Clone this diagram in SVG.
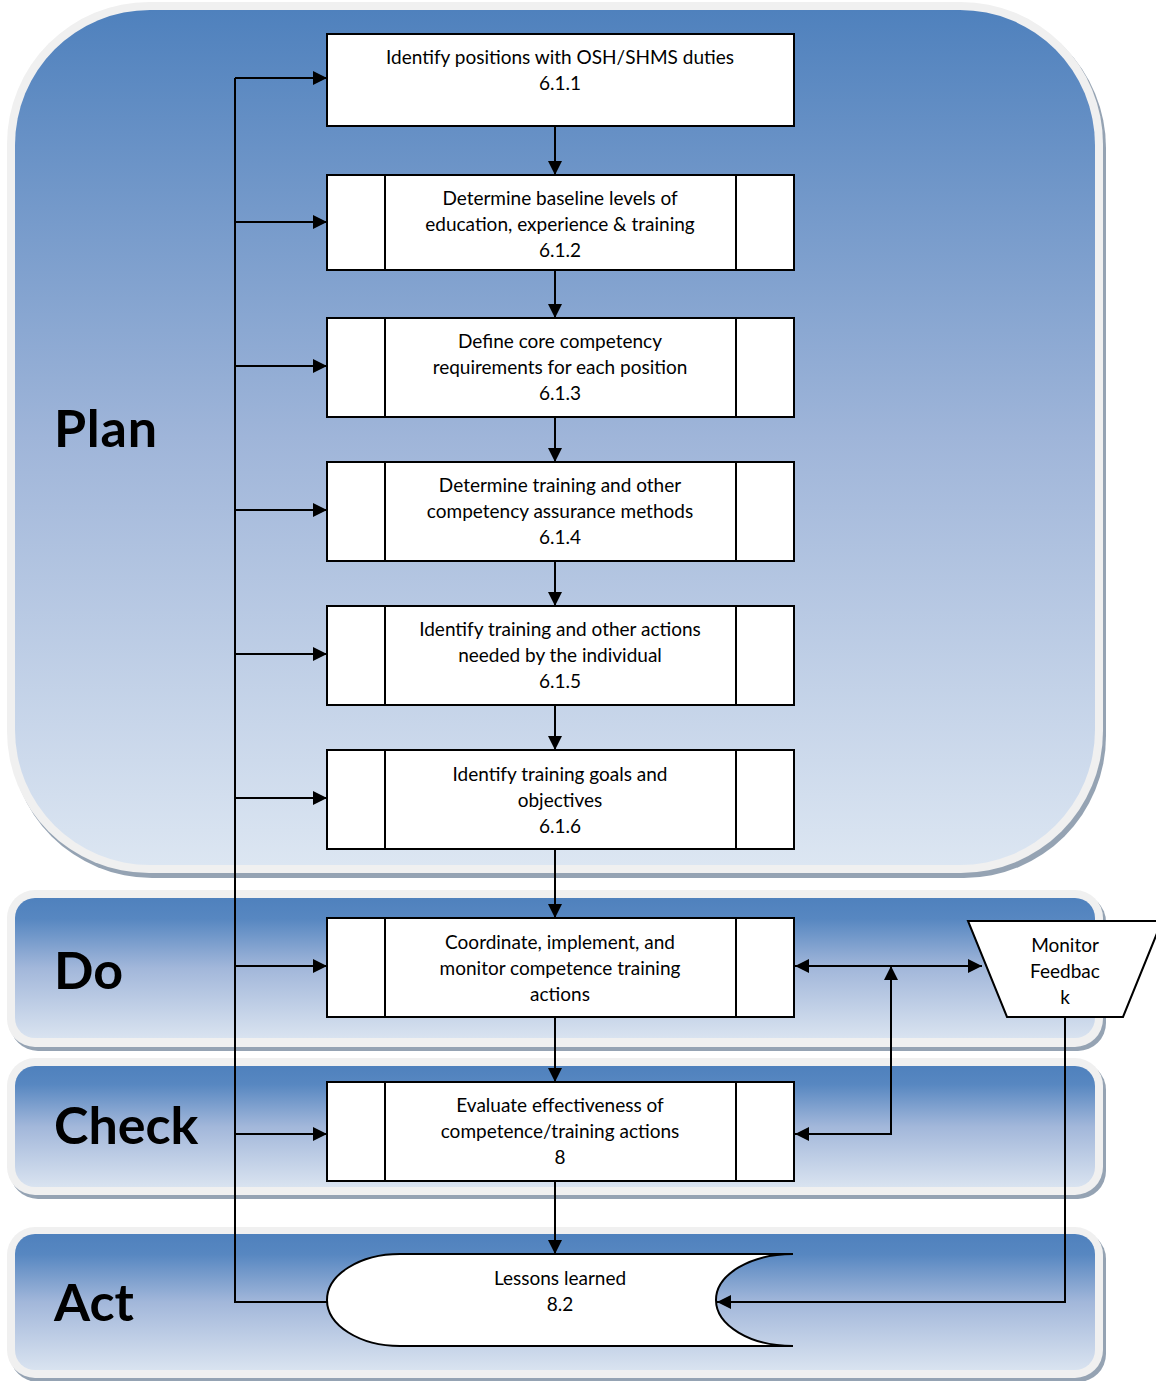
<svg xmlns="http://www.w3.org/2000/svg" width="1156" height="1381" viewBox="0 0 1156 1381">
<defs>
<linearGradient id="gPlan" x1="0" y1="0" x2="0" y2="1">
<stop offset="0" stop-color="#4f81bd"/>
<stop offset="0.5" stop-color="#9fb5d9"/>
<stop offset="1" stop-color="#dce6f2"/>
</linearGradient>
<linearGradient id="gBand" x1="0" y1="0" x2="0" y2="1">
<stop offset="0" stop-color="#4f81bd"/>
<stop offset="0.15" stop-color="#5787c1"/>
<stop offset="0.5" stop-color="#a2b7da"/>
<stop offset="1" stop-color="#d9e3f0"/>
</linearGradient>
<marker id="ah" viewBox="0 0 12 12" refX="12" refY="6" markerWidth="14" markerHeight="14" markerUnits="userSpaceOnUse" orient="auto-start-reverse">
<path d="M0,0 L12,6 L0,12 Z" fill="#000"/>
</marker>
</defs>
<style>
.sh{fill:#95a3b3}
.bd{fill:#f0f0f0}
.box{fill:#fff;stroke:#000;stroke-width:2}
.ln{fill:none;stroke:#000;stroke-width:2}
.t{font-family:Lato,"Open Sans",sans-serif;font-size:19px;fill:#000;text-anchor:middle}
.lab{font-family:Lato,"Open Sans",sans-serif;font-size:52px;font-weight:bold;fill:#000}
</style>
<rect width="1156" height="1381" fill="#fff"/>
<g id="panels">
<rect class="sh" x="10" y="6" width="1096" height="872" rx="142"/>
<rect class="bd" x="7" y="2" width="1096" height="871" rx="142"/>
<rect x="15" y="10" width="1080" height="855" rx="135" fill="url(#gPlan)"/>
<rect class="sh" x="10" y="894" width="1096" height="157" rx="28"/>
<rect class="bd" x="7" y="890" width="1096" height="157" rx="28"/>
<rect x="15" y="898" width="1080" height="140" rx="20" fill="url(#gBand)"/>
<rect class="sh" x="10" y="1062" width="1096" height="137" rx="28"/>
<rect class="bd" x="7" y="1058" width="1096" height="137" rx="28"/>
<rect x="15" y="1066" width="1080" height="121" rx="20" fill="url(#gBand)"/>
<rect class="sh" x="10" y="1231" width="1096" height="151" rx="28"/>
<rect class="bd" x="7" y="1227" width="1096" height="151" rx="28"/>
<rect x="15" y="1234" width="1080" height="136" rx="20" fill="url(#gBand)"/>
<text class="lab" x="54" y="447" textLength="103">Plan</text>
<text class="lab" x="54" y="989">Do</text>
<text class="lab" x="54" y="1144">Check</text>
<text class="lab" x="54" y="1321">Act</text>
</g>
<g id="connectors">
<path class="ln" d="M235,78 V1302 H327"/>
<path class="ln" d="M235,78 H327" marker-end="url(#ah)"/>
<path class="ln" d="M235,222 H327" marker-end="url(#ah)"/>
<path class="ln" d="M235,366 H327" marker-end="url(#ah)"/>
<path class="ln" d="M235,510 H327" marker-end="url(#ah)"/>
<path class="ln" d="M235,654 H327" marker-end="url(#ah)"/>
<path class="ln" d="M235,798 H327" marker-end="url(#ah)"/>
<path class="ln" d="M235,966 H327" marker-end="url(#ah)"/>
<path class="ln" d="M235,1134 H327" marker-end="url(#ah)"/>
<path class="ln" d="M555,126 V175" marker-end="url(#ah)"/>
<path class="ln" d="M555,270 V318" marker-end="url(#ah)"/>
<path class="ln" d="M555,417 V462" marker-end="url(#ah)"/>
<path class="ln" d="M555,561 V606" marker-end="url(#ah)"/>
<path class="ln" d="M555,705 V750" marker-end="url(#ah)"/>
<path class="ln" d="M555,849 V918" marker-end="url(#ah)"/>
<path class="ln" d="M555,1017 V1082" marker-end="url(#ah)"/>
<path class="ln" d="M555,1181 V1254" marker-end="url(#ah)"/>
<path class="ln" d="M795,966 H982" marker-start="url(#ah)" marker-end="url(#ah)"/>
<path class="ln" d="M795,1134 H891 V966" marker-start="url(#ah)" marker-end="url(#ah)"/>
<path class="ln" d="M1065,1017 V1302 H717" marker-end="url(#ah)"/>
</g>
<g id="n611">
<rect class="box" x="327" y="34" width="467" height="92"/>
<text class="t" x="560" y="64">Identify positions with OSH/SHMS duties</text>
<text class="t" x="560" y="90">6.1.1</text>
</g>
<g id="n612">
<rect class="box" x="327" y="175" width="467" height="95"/>
<path class="ln" d="M385,175 V270 M736,175 V270"/>
<text class="t" x="560" y="205">Determine baseline levels of</text>
<text class="t" x="560" y="231">education, experience &amp; training</text>
<text class="t" x="560" y="257">6.1.2</text>
</g>
<g id="n613">
<rect class="box" x="327" y="318" width="467" height="99"/>
<path class="ln" d="M385,318 V417 M736,318 V417"/>
<text class="t" x="560" y="348">Define core competency</text>
<text class="t" x="560" y="374">requirements for each position</text>
<text class="t" x="560" y="400">6.1.3</text>
</g>
<g id="n614">
<rect class="box" x="327" y="462" width="467" height="99"/>
<path class="ln" d="M385,462 V561 M736,462 V561"/>
<text class="t" x="560" y="492">Determine training and other</text>
<text class="t" x="560" y="518">competency assurance methods</text>
<text class="t" x="560" y="544">6.1.4</text>
</g>
<g id="n615">
<rect class="box" x="327" y="606" width="467" height="99"/>
<path class="ln" d="M385,606 V705 M736,606 V705"/>
<text class="t" x="560" y="636">Identify training and other actions</text>
<text class="t" x="560" y="662">needed by the individual</text>
<text class="t" x="560" y="688">6.1.5</text>
</g>
<g id="n616">
<rect class="box" x="327" y="750" width="467" height="99"/>
<path class="ln" d="M385,750 V849 M736,750 V849"/>
<text class="t" x="560" y="781">Identify training goals and</text>
<text class="t" x="560" y="807">objectives</text>
<text class="t" x="560" y="833">6.1.6</text>
</g>
<g id="ndo">
<rect class="box" x="327" y="918" width="467" height="99"/>
<path class="ln" d="M385,918 V1017 M736,918 V1017"/>
<text class="t" x="560" y="949">Coordinate, implement, and</text>
<text class="t" x="560" y="975">monitor competence training</text>
<text class="t" x="560" y="1001">actions</text>
</g>
<g id="ncheck">
<rect class="box" x="327" y="1082" width="467" height="99"/>
<path class="ln" d="M385,1082 V1181 M736,1082 V1181"/>
<text class="t" x="560" y="1112">Evaluate effectiveness of</text>
<text class="t" x="560" y="1138">competence/training actions</text>
<text class="t" x="560" y="1164">8</text>
</g>
<g id="nlessons">
<path class="box" d="M400,1254 H793 A77,46 0 0 0 793,1346 H400 A73,46 0 0 1 400,1254 Z"/>
<text class="t" x="560" y="1285">Lessons learned</text>
<text class="t" x="560" y="1311">8.2</text>
</g>
<g id="nmonitor">
<polygon class="box" points="968,921 1162,921 1123,1017 1007,1017"/>
<text class="t" x="1065" y="952">Monitor</text>
<text class="t" x="1065" y="978">Feedbac</text>
<text class="t" x="1065" y="1004">k</text>
</g>
</svg>
